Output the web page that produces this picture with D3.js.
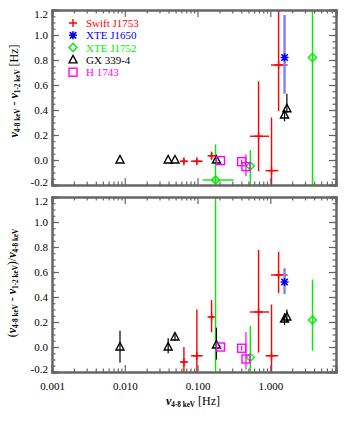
<!DOCTYPE html>
<html><head><meta charset="utf-8">
<script src="https://cdn.jsdelivr.net/npm/d3@7"></script>
<style>
body{margin:0;background:#fff;}
svg{display:block;font-family:"Liberation Serif","DejaVu Serif",serif;}
</style></head><body>
<svg id="c" width="346" height="424"></svg>
<script>
// ---------- DATA ----------
const seriesNames = ["Swift J1753","XTE J1650","XTE J1752","GX 339-4","H 1743"];
const seriesColors = ["#ff0000","#0000ff","#00ee00","#000000","#ff00ff"];

// Swift J1753
const swiftFreq   = [0.065, 0.098, 0.156, 0.69, 1.04, 1.30];
const swiftFreqLo = [0.060, 0.081, 0.146, 0.525, 0.86, 1.02];
const swiftFreqHi = [0.071, 0.118, 0.168, 0.96, 1.29, 1.73];
const swiftDiff   = [-0.01, -0.01, 0.034, 0.19, -0.085, 0.76];
const swiftDiffLo = [-0.03, -0.03, 0.01, -0.09, -0.5, 0.39];
const swiftDiffHi = [0.01, 0.01, 0.06, 0.63, 0.34, 1.5];
const swiftRatio  = [-0.12, -0.07, 0.24, 0.28, -0.07, 0.576];
const swiftRatioLo= [-0.5, -0.5, 0.118, -0.045, -0.5, 0.43];
const swiftRatioHi= [0.0, 0.30, 0.376, 0.776, 0.34, 0.76];

// XTE J1650
const j1650Freq   = [1.57];
const j1650FreqLo = [1.50];
const j1650FreqHi = [1.65];
const j1650Diff   = [0.82];
const j1650DiffLo = [0.53];
const j1650DiffHi = [1.16];
const j1650Ratio  = [0.52];
const j1650RatioLo= [0.424];
const j1650RatioHi= [0.63];

// XTE J1752
const j1752Freq   = [0.177, 0.532, 3.8];
const j1752FreqLo = [0.118, 0.52, 3.75];
const j1752FreqHi = [0.314, 0.545, 3.85];
const j1752Diff   = [-0.16, -0.048, 0.82];
const j1752DiffLo = [-0.5, -0.5, -0.5];
const j1752DiffHi = [0.125, 0.08, 1.5];
const j1752Ratio  = [-0.9, -0.083, 0.216];
const j1752RatioLo= [-2.0, -0.5, -0.03];
const j1752RatioHi= [1.5, 0.168, 0.54];

// GX 339-4
const gxFreq   = [0.0086, 0.0395, 0.049, 0.182, 1.57, 1.69];
const gxFreqLo = [0.0086, 0.0395, 0.049, 0.182, 1.57, 1.69];
const gxFreqHi = [0.0086, 0.0395, 0.049, 0.182, 1.57, 1.69];
const gxDiff   = [0.0, 0.0, 0.0, 0.0, 0.36, 0.41];
const gxDiffLo = [0.0, 0.0, 0.0, 0.0, 0.31, 0.38];
const gxDiffHi = [0.0, 0.0, 0.0, 0.0, 0.40, 0.53];
const gxRatio  = [0.0, 0.0, 0.08, 0.016, 0.224, 0.24];
const gxRatioLo= [-0.125, -0.05, 0.05, -0.10, 0.176, 0.20];
const gxRatioHi= [0.13, 0.07, 0.11, 0.155, 0.27, 0.30];

// H 1743
const hFreq   = [0.207, 0.404, 0.463];
const hFreqLo = [0.207, 0.404, 0.463];
const hFreqHi = [0.207, 0.404, 0.463];
const hDiff   = [-0.005, -0.013, -0.053];
const hDiffLo = [-0.005, -0.03, -0.13];
const hDiffHi = [-0.005, 0.005, 0.045];
const hRatio  = [0.0, -0.01, -0.096];
const hRatioLo= [-0.01, -0.03, -0.18];
const hRatioHi= [0.01, 0.01, 0.12];

const xMajorTicks = [0.001, 0.01, 0.1, 1];
const xTickLabels = ["0.001","0.010","0.100","1.000"];
const yMajorTicks = [-0.2, 0, 0.2, 0.4, 0.6, 0.8, 1.0, 1.2];
const yTickLabels = ["-0.2","0.0","0.2","0.4","0.6","0.8","1.0","1.2"];

// ---------- BUILD ----------
const series = [
  {name:seriesNames[0], color:seriesColors[0], sym:"plus", ebColor:"#ff0000", ebW:1.4,
   f:swiftFreq, fl:swiftFreqLo, fh:swiftFreqHi, d:swiftDiff, dl:swiftDiffLo, dh:swiftDiffHi, r:swiftRatio, rl:swiftRatioLo, rh:swiftRatioHi},
  {name:seriesNames[1], color:seriesColors[1], sym:"aster", ebColor:"#7f7fff", ebW:2.4,
   f:j1650Freq, fl:j1650FreqLo, fh:j1650FreqHi, d:j1650Diff, dl:j1650DiffLo, dh:j1650DiffHi, r:j1650Ratio, rl:j1650RatioLo, rh:j1650RatioHi},
  {name:seriesNames[2], color:seriesColors[2], sym:"diamond", ebColor:"#00ee00", ebW:1.4,
   f:j1752Freq, fl:j1752FreqLo, fh:j1752FreqHi, d:j1752Diff, dl:j1752DiffLo, dh:j1752DiffHi, r:j1752Ratio, rl:j1752RatioLo, rh:j1752RatioHi},
  {name:seriesNames[3], color:seriesColors[3], sym:"tri", ebColor:"#000000", ebW:1.2,
   f:gxFreq, fl:gxFreqLo, fh:gxFreqHi, d:gxDiff, dl:gxDiffLo, dh:gxDiffHi, r:gxRatio, rl:gxRatioLo, rh:gxRatioHi},
  {name:seriesNames[4], color:seriesColors[4], sym:"square", ebColor:"#ff00ff", ebW:1.2,
   f:hFreq, fl:hFreqLo, fh:hFreqHi, d:hDiff, dl:hDiffLo, dh:hDiffHi, r:hRatio, rl:hRatioLo, rh:hRatioHi}
];

const svg = d3.select("#c");
const X0 = 52, X1 = 336;
const x = d3.scaleLog().domain([0.001, 8]).range([X0, X1]);
const panels = [
  {key:"d", lo:"dl", hi:"dh", y: d3.scaleLinear().domain([-0.2,1.2]).range([185,10]), showX:false, id:"p1"},
  {key:"r", lo:"rl", hi:"rh", y: d3.scaleLinear().domain([-0.2,1.2]).range([372,197]), showX:true, id:"p2"}
];

const axisColor = "#666";
const minorX = [];
for (let e=-3; e<=0; e++) for (let m=2; m<=9; m++) { const v=m*Math.pow(10,e); if (v<=8) minorX.push(v); }
const minorY = d3.range(-0.2, 1.2001, 0.05).map(v=>+v.toFixed(2));

function symbol(g, type, cx, cy, color, s) {
  s = s || 4;
  if (type==="plus") {
    g.append("path").attr("d",`M${cx-s},${cy}H${cx+s}M${cx},${cy-s}V${cy+s}`).attr("stroke",color).attr("stroke-width",1.4).attr("fill","none");
  } else if (type==="aster") {
    const k = s*0.8;
    g.append("path").attr("d",`M${cx-s},${cy}H${cx+s}M${cx},${cy-s}V${cy+s}M${cx-k},${cy-k}L${cx+k},${cy+k}M${cx-k},${cy+k}L${cx+k},${cy-k}`).attr("stroke",color).attr("stroke-width",1.6).attr("fill","none");
  } else if (type==="diamond") {
    g.append("path").attr("d",`M${cx},${cy-s}L${cx+s},${cy}L${cx},${cy+s}L${cx-s},${cy}Z`).attr("stroke",color).attr("stroke-width",1.4).attr("fill","none");
  } else if (type==="tri") {
    g.append("path").attr("d",`M${cx},${cy-s-0.5}L${cx+s},${cy+s-1}L${cx-s},${cy+s-1}Z`).attr("stroke",color).attr("stroke-width",1.4).attr("fill","none");
  } else if (type==="square") {
    g.append("rect").attr("x",cx-s).attr("y",cy-s).attr("width",2*s).attr("height",2*s).attr("stroke",color).attr("stroke-width",1.4).attr("fill","none");
  }
}

panels.forEach(p => {
  const y = p.y;
  const [yb, yt] = y.range();
  svg.append("clipPath").attr("id","clip-"+p.id).append("rect")
    .attr("x",X0).attr("y",yt).attr("width",X1-X0).attr("height",yb-yt);
  const g = svg.append("g").attr("clip-path",`url(#clip-${p.id})`);
  series.forEach(s => {
    s.f.forEach((fv,i) => {
      const cx = x(fv), cy = y(s[p.key][i]);
      const eg = g.append("g");
      eg.append("line").attr("x1",cx).attr("x2",cx).attr("y1",y(s[p.lo][i])).attr("y2",y(s[p.hi][i]))
        .attr("stroke",s.ebColor).attr("stroke-width",s.ebW);
      eg.append("line").attr("x1",x(s.fl[i])).attr("x2",x(s.fh[i])).attr("y1",cy).attr("y2",cy)
        .attr("stroke",s.ebColor).attr("stroke-width",s.ebW);
      symbol(g, s.sym, cx, cy, s.color, 4);
    });
  });

  const fmtX = d => xTickLabels[xMajorTicks.indexOf(d)];
  const fmtY = d => { const i = yMajorTicks.findIndex(v=>Math.abs(v-d)<1e-6); return yTickLabels[i]; };
  const ax = [];
  ax.push(svg.append("g").attr("transform",`translate(0,${yb})`).call(d3.axisBottom(x).tickValues(xMajorTicks).tickSize(-7).tickPadding(10).tickFormat(p.showX?fmtX:()=>"")));
  ax.push(svg.append("g").attr("transform",`translate(0,${yb})`).call(d3.axisBottom(x).tickValues(minorX).tickSize(-3.5).tickFormat(()=>"")));
  ax.push(svg.append("g").attr("transform",`translate(0,${yt})`).call(d3.axisTop(x).tickValues(xMajorTicks).tickSize(-7).tickFormat(()=>"")));
  ax.push(svg.append("g").attr("transform",`translate(0,${yt})`).call(d3.axisTop(x).tickValues(minorX).tickSize(-3.5).tickFormat(()=>"")));
  const yl = svg.append("g").attr("transform",`translate(${X0},0)`).call(d3.axisLeft(y).tickValues(yMajorTicks).tickSize(-7).tickPadding(4).tickFormat(fmtY));
  ax.push(yl);
  ax.push(svg.append("g").attr("transform",`translate(${X0},0)`).call(d3.axisLeft(y).tickValues(minorY).tickSize(-3.5).tickFormat(()=>"")));
  ax.push(svg.append("g").attr("transform",`translate(${X1},0)`).call(d3.axisRight(y).tickValues(yMajorTicks).tickSize(-7).tickFormat(()=>"")));
  ax.push(svg.append("g").attr("transform",`translate(${X1},0)`).call(d3.axisRight(y).tickValues(minorY).tickSize(-3.5).tickFormat(()=>"")));
  ax.forEach(a => {
    a.select(".domain").attr("stroke",axisColor).attr("stroke-width",2);
    a.selectAll(".tick line").attr("stroke",axisColor).attr("stroke-width",1.2);
    a.selectAll("text").attr("font-family","Liberation Serif, serif").attr("font-size",11).attr("fill","#000");
  });
  yl.selectAll(".tick text").attr("dy", d => Math.abs(d-1.2)<1e-6 ? "0.72em" : (Math.abs(d+0.2)<1e-6 ? "0.05em" : "0.32em"));
});

// legend
const legend = svg.append("g");
series.forEach((s,i) => {
  const ly = 23 + i*12.3;
  symbol(legend, s.sym, 73, ly, s.color, 4);
  legend.append("text").attr("x",86).attr("y",ly+4).attr("font-size",11).attr("fill",s.color).text(s.name);
});

// axis titles
function nuText(t, parts, fs) {
  parts.forEach(p => {
    const ts = t.append("tspan").text(p.t);
    if (p.nu) ts.attr("font-weight","bold").attr("font-style","italic").attr("font-size",fs);
    else if (p.sub) ts.attr("font-size",fs*0.6).attr("font-weight","bold").attr("baseline-shift","-25%");
    else ts.attr("font-size",fs);
  });
}
const t1 = svg.append("text").attr("transform","translate(18,91) rotate(-90)").attr("text-anchor","middle").attr("fill","#000");
nuText(t1, [{t:"ν",nu:true},{t:"4-8 keV",sub:true},{t:" - "},{t:"ν",nu:true},{t:"1-2 keV",sub:true},{t:" [Hz]"}], 12);
const t2 = svg.append("text").attr("transform","translate(16,283) rotate(-90)").attr("text-anchor","middle").attr("fill","#000");
nuText(t2, [{t:"("},{t:"ν",nu:true},{t:"4-8 keV",sub:true},{t:" - "},{t:"ν",nu:true},{t:"1-2 keV",sub:true},{t:")/"},{t:"ν",nu:true},{t:"4-8 keV",sub:true}], 12);
const t3 = svg.append("text").attr("x",193).attr("y",405).attr("text-anchor","middle").attr("fill","#000");
nuText(t3, [{t:"ν",nu:true},{t:"4-8 keV",sub:true},{t:" [Hz]"}], 12);
</script></body></html>
